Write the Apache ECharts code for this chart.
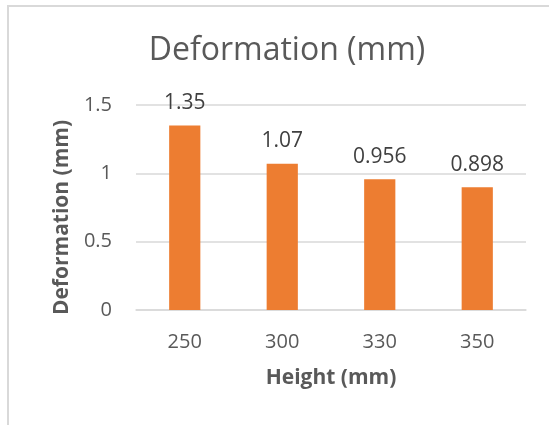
<!DOCTYPE html>
<html>
<head>
<meta charset="utf-8">
<script src="https://cdn.jsdelivr.net/npm/echarts@6/dist/echarts.min.js"></script>
<style>
html,body{margin:0;padding:0;background:#fff;}
#chart{width:549px;height:427px;}
</style>
</head>
<body>
<div id="chart"></div>
<script>
const categories = ['250', '300', '330', '350'];
const deformation = [1.35, 1.07, 0.956, 0.898];
const yTicks = [0, 0.5, 1, 1.5];

const chart = echarts.init(document.getElementById('chart'), null, {renderer: 'canvas'});
const font = '"Open Sans", "Liberation Sans", sans-serif';
chart.setOption({
  animation: false,
  backgroundColor: '#ffffff',
  graphic: [
    {type: 'rect', shape: {x: 7, y: 5, width: 542, height: 2}, style: {fill: '#d9d9d9'}},
    {type: 'rect', shape: {x: 7, y: 5, width: 2, height: 420}, style: {fill: '#d9d9d9'}}
  ],
  title: {
    text: 'Deformation (mm)',
    left: 282, top: 30, textAlign: 'center',
    textStyle: {fontFamily: font, fontSize: 32, fontWeight: 'normal', color: '#595959'}
  },
  grid: {left: 136, right: 23, top: 105, bottom: 117, containLabel: false},
  xAxis: {
    type: 'category',
    data: categories,
    name: 'Height (mm)',
    nameLocation: 'middle',
    nameGap: 58,
    nameTextStyle: {fontFamily: font, fontSize: 21, fontWeight: 'bold', color: '#595959'},
    axisLine: {show: true, lineStyle: {color: '#d9d9d9', width: 1.5}},
    axisTick: {show: false},
    axisLabel: {fontFamily: font, fontSize: 20, color: '#595959', margin: 22}
  },
  yAxis: {
    type: 'value',
    min: yTicks[0], max: yTicks[yTicks.length - 1], interval: 0.5,
    name: 'Deformation (mm)',
    nameLocation: 'middle',
    nameGap: 63,
    nameTextStyle: {fontFamily: font, fontSize: 21, fontWeight: 'bold', color: '#595959', padding: [0, 20, 0, 0]},
    axisLine: {show: false},
    axisTick: {show: false},
    splitLine: {lineStyle: {color: '#d9d9d9', width: 1.5}},
    axisLabel: {fontFamily: font, fontSize: 20, color: '#595959', margin: 24}
  },
  series: [{
    type: 'bar',
    data: deformation,
    barWidth: '32%',
    itemStyle: {color: '#ED7D31'},
    label: {
      show: true, position: 'top', distance: 12,
      fontFamily: font, fontSize: 21, color: '#404040'
    }
  }]
});
</script>
</body>
</html>
